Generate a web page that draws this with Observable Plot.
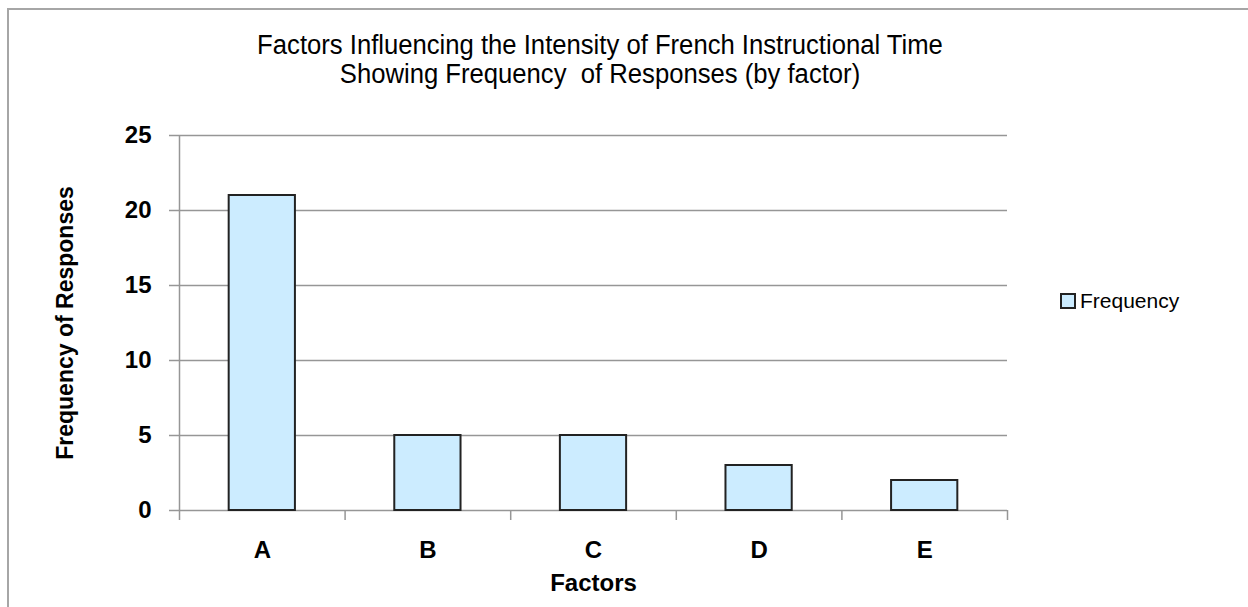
<!DOCTYPE html>
<html><head><meta charset="utf-8">
<script src="https://cdn.jsdelivr.net/npm/d3@7"></script>
<script src="https://cdn.jsdelivr.net/npm/@observablehq/plot@0.6"></script>
<style>
body{margin:0;background:#fff;}
#wrap{position:relative;width:1248px;height:607px;overflow:hidden;background:#fff;}
#border{position:absolute;left:7px;top:8px;width:1300px;height:700px;border-left:2px solid #a6a6a6;border-top:2px solid #a6a6a6;box-sizing:border-box;}
#title{position:absolute;left:0;width:1200px;top:31px;text-align:center;font-family:"Liberation Sans Narrow","Arial Narrow","Liberation Sans",sans-serif;font-size:27px;line-height:29px;color:#000;transform:scaleX(0.95);transform-origin:600px 0;}
#legend{position:absolute;left:1060px;top:289px;display:flex;align-items:center;font-family:"Liberation Sans Narrow","Arial Narrow","Liberation Sans",sans-serif;font-size:21px;color:#000;}
#legend .sw{width:12px;height:12px;border:2px solid #222;background:#CCECFF;margin-right:4px;}
#chart{position:absolute;left:0;top:0;}
</style>
</head><body>
<div id="wrap">
  <div id="chart"></div>
  <div id="border"></div>
  <div id="title">Factors Influencing the Intensity of French Instructional Time<br>Showing Frequency&nbsp; of Responses (by factor)</div>
  <div id="legend"><div class="sw"></div><span>Frequency</span></div>
</div>
<script>
const categories = ["A", "B", "C", "D", "E"];
const frequency = [21, 5, 5, 3, 2];
const yTicks = [0, 5, 10, 15, 20, 25];
const xTitle = "Factors";
const yTitle = "Frequency of Responses";

const data = categories.map((c, i) => ({factor: c, index: i, value: frequency[i]}));
const boundaries = d3.range(categories.length + 1);
const centers = categories.map((c, i) => i + 0.5);
const grid = "#969696";

const chart = Plot.plot({
  width: 1248,
  height: 607,
  marginLeft: 179,
  marginRight: 241,
  marginTop: 135,
  marginBottom: 97,
  style: {fontFamily: "'Liberation Sans', Arial, sans-serif", background: "transparent"},
  x: {domain: [0, categories.length]},
  y: {domain: [0, 25]},
  marks: [
    Plot.ruleY(yTicks, {stroke: grid, strokeWidth: 1.5}),
    Plot.ruleX([0], {stroke: grid, strokeWidth: 1.5}),
    Plot.axisY({ticks: yTicks, tickSize: 10, tickPadding: 18, stroke: grid, strokeWidth: 1.5, fontSize: 24, fontWeight: "bold", fill: "#000", label: null}),
    Plot.axisX({ticks: boundaries, tickFormat: () => "", tickSize: 10, stroke: grid, strokeWidth: 1.5, label: null}),
    Plot.axisX({ticks: centers, tickFormat: v => categories[Math.floor(v)], tickSize: 0, tickPadding: 30, fontSize: 24, fontWeight: "bold", fill: "#000", label: null}),
    Plot.rectY(data, {x1: d => d.index + 0.3, x2: d => d.index + 0.7, y: "value", fill: "#CCECFF", stroke: "#222", strokeWidth: 2}),
    Plot.text([xTitle], {frameAnchor: "bottom", dy: 80, fontSize: 24, fontWeight: "bold", fill: "#000"}),
    Plot.text([yTitle], {frameAnchor: "left", dx: -114, rotate: -90, textAnchor: "middle", fontSize: 23, fontWeight: "bold", fill: "#000"})
  ]
});
document.getElementById("chart").appendChild(chart);
</script>
</body></html>
